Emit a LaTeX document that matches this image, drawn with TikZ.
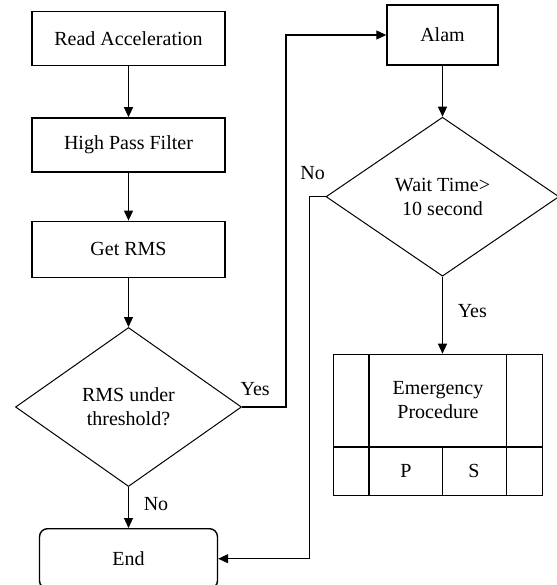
\documentclass[tikz,border=0pt]{standalone}
\usepackage{fontspec}
\setmainfont{Liberation Serif}
\newfontfamily\timesfont{Liberation Serif}
\usepackage{tikz}
\usetikzlibrary{shapes,arrows.meta,positioning,calc}

\begin{document}
\begin{tikzpicture}[
    node distance=25pt,
    every node/.style={font=\timesfont},
    box/.style={rectangle, draw, line width=0.7pt, minimum width=96.5pt, minimum height=27pt, align=center},
    decision/.style={diamond, draw, line width=0.5pt, inner sep=0pt, minimum width=113pt, minimum height=79.5pt, align=center},
    arrow/.style={-{Triangle[length=5pt,width=4.5pt]}, line width=0.6pt}
]
\useasboundingbox (0,0) rectangle (278.5pt,-292.5pt);

\node[box] (read) at (64.25pt,-19.25pt) {Read Acceleration};
\node[box, below=25.5pt of read] (hpf) {High Pass Filter};
\node[box, below=24pt of hpf, minimum height=28pt] (rms) {Get RMS};
\node[decision, below=24.5pt of rms] (under) {RMS under\\threshold?};
\node[box, below=20.5pt of under, rounded corners=4pt, minimum width=89pt, minimum height=30pt] (end) {End};

\node[box, minimum width=55.5pt, minimum height=30pt] (alam) at (221.25pt,-17.5pt) {Alam};
\node[decision, below=25.5pt of alam, minimum width=116.5pt] (wait) {Wait Time\textgreater\\10 second};
\node[box, below=38.5pt of wait, xshift=-2.25pt, minimum width=104.5pt, minimum height=70.5pt] (emer) {};

% cells of the emergency box
\draw[line width=0.7pt] ([xshift=18pt]emer.north west) -- ([xshift=18pt]emer.south west);
\draw[line width=0.7pt] ([xshift=-18.5pt]emer.north east) -- ([xshift=-18.5pt]emer.south east);
\draw[line width=0.7pt] ([yshift=24.5pt]emer.south west) -- ([yshift=24.5pt]emer.south east);
\draw[line width=0.7pt] (wait.south |- emer.south) -- ++(0,24.5pt);
\node[align=center] (emtext) at ([yshift=12.25pt]emer.center) {Emergency\\Procedure};
\node (pcell) at ([xshift=-16pt,yshift=-23pt]emer.center) {P};
\node (scell) at ([xshift=18pt,yshift=-23pt]emer.center) {S};

\draw[arrow] (read) -- (hpf);
\draw[arrow] (hpf) -- (rms);
\draw[arrow] (rms) -- (under);
\draw[arrow] (under) -- node[right, xshift=4pt, yshift=1.5pt] {No} (end);
\draw[arrow] (under.east) -- node[above, pos=0.3, yshift=2pt] {Yes} ++(22pt,0) |- (alam.west);
\draw[arrow] (alam) -- (wait);
\draw[arrow] (wait.south) -- node[right, xshift=4pt, pos=0.45] {Yes} (wait.south |- emer.north);
\draw[arrow] (wait.west) -- node[above, pos=0.3, xshift=-4pt, yshift=5pt] {No} ++(-8pt,0) |- (end.east);
\end{tikzpicture}
\end{document}
